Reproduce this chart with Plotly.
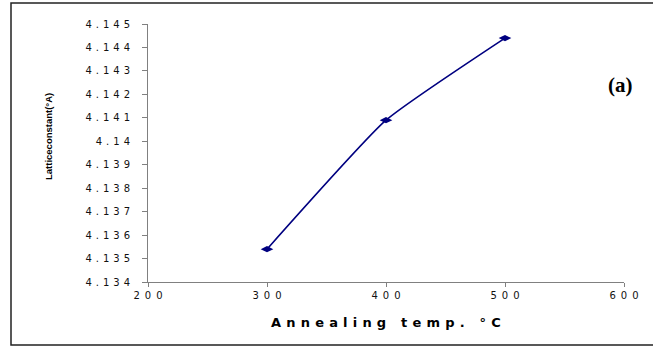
import plotly.graph_objects as go

# Annealing temperature (°C) and lattice constant (Å)
temperature = [300, 400, 500]
lattice_constant = [4.1354, 4.1409, 4.1444]

y_tick_values = [4.134, 4.135, 4.136, 4.137, 4.138, 4.139, 4.140,
                 4.141, 4.142, 4.143, 4.144, 4.145]
y_tick_labels = ["4.134", "4.135", "4.136", "4.137", "4.138", "4.139", "4.14",
                 "4.141", "4.142", "4.143", "4.144", "4.145"]
x_tick_values = [200, 300, 400, 500, 600]
x_tick_labels = ["200", "300", "400", "500", "600"]

GAP = "\u2009\u2009"  # wide letter spacing used throughout the chart text


def spread(s, sep=GAP):
    return sep.join(list(s))


W, H = 653, 347
L, R, T, B = 148, 29, 24, 65
pw, ph = W - L - R, H - T - B


def px_x(px):
    return (px - L) / pw


def px_y(py):
    return (H - B - py) / ph


fig = go.Figure()
fig.add_trace(go.Scatter(
    x=temperature, y=lattice_constant,
    mode="lines+markers",
    line=dict(color="#000080", width=1.6, shape="spline", smoothing=0.45),
    marker=dict(symbol="diamond-wide", size=9, color="#000080"),
    showlegend=False,
))

tick_font = dict(family="DejaVu Sans, sans-serif", size=10, color="#111111")

fig.update_layout(
    width=W, height=H,
    margin=dict(l=L, r=R, t=T, b=B),
    paper_bgcolor="white", plot_bgcolor="white",
    xaxis=dict(
        range=[200, 600], tickvals=x_tick_values,
        ticktext=[spread(t, "\u2009\u2009\u200a") for t in x_tick_labels],
        showline=True, linecolor="#808080", linewidth=1,
        ticks="outside", ticklen=4, tickcolor="#808080",
        showgrid=False, zeroline=False, tickfont=tick_font,
    ),
    yaxis=dict(
        range=[4.134, 4.145], tickvals=y_tick_values,
        ticktext=[spread(t) for t in y_tick_labels],
        showline=True, linecolor="#808080", linewidth=1,
        ticks="outside", ticklen=5, tickcolor="#808080",
        showgrid=False, zeroline=False, tickfont=tick_font,
        ticklabelstandoff=10,
    ),
    shapes=[dict(
        type="rect", xref="paper", yref="paper",
        x0=px_x(11), x1=px_x(662), y0=px_y(345), y1=px_y(3),
        line=dict(color="#222222", width=1.5), layer="below",
    )],
    annotations=[
        dict(
            text="<b>" + spread("Annealing temp. °C", "\u2009\u2009") + "</b>",
            xref="paper", yref="paper", x=px_x(386), y=px_y(322),
            showarrow=False, xanchor="center", yanchor="middle",
            font=dict(family="DejaVu Sans, sans-serif", size=13, color="#000000"),
        ),
        dict(
            text="<b>Latticeconstant(°A)</b>",
            xref="paper", yref="paper", x=px_x(48), y=px_y(137),
            showarrow=False, textangle=-90, xanchor="center", yanchor="middle",
            font=dict(family="Liberation Sans, Arial, sans-serif",
                      size=9.5, color="#000000"),
        ),
        dict(
            text="<b>(a)</b>",
            xref="paper", yref="paper", x=px_x(620), y=px_y(85),
            showarrow=False, xanchor="center", yanchor="middle",
            font=dict(family="Liberation Serif, Times New Roman, serif", size=21, color="#000000"),
        ),
    ],
)

fig.write_html("out.html")
